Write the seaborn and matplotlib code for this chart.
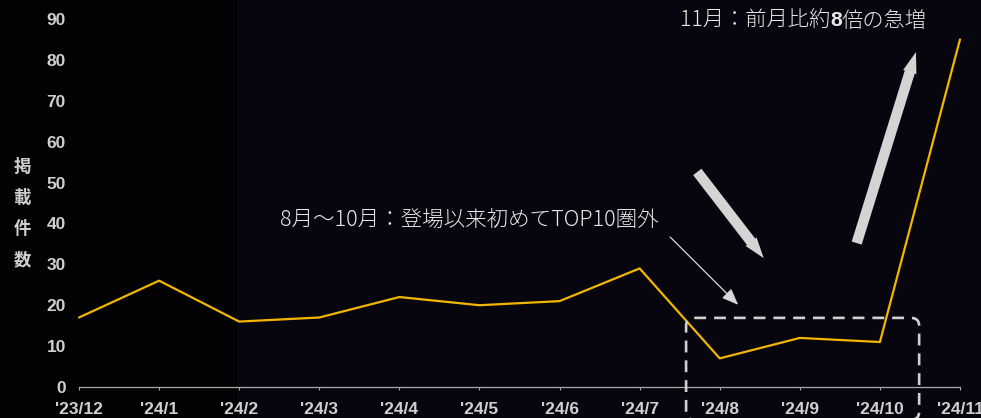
import matplotlib
matplotlib.use("Agg")
import matplotlib.pyplot as plt
from matplotlib.patches import FancyBboxPatch, Rectangle
import seaborn as sns
import pandas as pd

# Monthly listing counts
months = ["'23/12", "'24/1", "'24/2", "'24/3", "'24/4", "'24/5",
          "'24/6", "'24/7", "'24/8", "'24/9", "'24/10", "'24/11"]
counts = [17, 26, 16, 17, 22, 20, 21, 29, 7, 12, 11, 85]
y_ticks = [0, 10, 20, 30, 40, 50, 60, 70, 80, 90]
y_label = "掲載件数"
note_drop = "8月～10月：登場以来初めてTOP10圏外"
note_jump = "11月：前月比約8倍の急増"

sns.set_theme(style="dark")
plt.rcParams["font.family"] = ["Noto Sans CJK JP", "DejaVu Sans"]

BG_LEFT = "#020204"
BG = "#07060e"
GREY = "#cfcfcf"
NOTE = "#e8e8e8"
LINE = "#f2b600"
TICK_FONT = ["Liberation Sans Narrow", "Liberation Sans", "DejaVu Sans"]

df = pd.DataFrame({"month": months, "count": counts, "pos": range(len(months))})

fig = plt.figure(figsize=(9.81, 4.18), dpi=100, facecolor=BG_LEFT)
fig.patches.append(Rectangle((237 / 981, 0), 1 - 237 / 981, 1,
                             transform=fig.transFigure, facecolor=BG,
                             edgecolor="none", zorder=-5))
ax = fig.add_axes([79 / 981, 1 - 387 / 418, (960 - 79) / 981, (387 - 19) / 418])
ax.set_facecolor("none")

sns.lineplot(data=df, x="pos", y="count", ax=ax, color=LINE, linewidth=1.6,
             clip_on=False, zorder=3)

ax.set_xlim(0, len(months) - 1)
ax.set_ylim(0, 90)
ax.set_xticks(df["pos"])
ax.set_xticklabels(months)
ax.set_yticks(y_ticks)
ax.set_xlabel("")
ax.set_ylabel("")
ax.grid(False)

for side in ["top", "right", "left"]:
    ax.spines[side].set_visible(False)
ax.spines["bottom"].set_visible(True)
ax.spines["bottom"].set_color("#a9a9a9")
ax.spines["bottom"].set_linewidth(0.9)

ax.tick_params(axis="x", bottom=True, length=2.5, width=0.8, color="#a9a9a9",
               pad=8, labelcolor=GREY)
ax.tick_params(axis="y", left=False, pad=3.5, labelcolor=GREY)
for lab in ax.get_xticklabels() + ax.get_yticklabels():
    lab.set_fontfamily(TICK_FONT)
    lab.set_fontweight("bold")
    lab.set_fontsize(12.5)

# vertical axis title, one character per row
for i, ch in enumerate(y_label):
    fig.text(22 / 981, 1 - (167 + i * 31) / 418, ch, color=GREY, fontsize=12.5,
             fontweight="bold", ha="center", va="center")

# dashed frame around Aug–Oct
frame = FancyBboxPatch((7.58, -8), 10.49 - 7.58, 16.9 + 8,
                       boxstyle="round,pad=0,rounding_size=0.1",
                       mutation_aspect=19.6, facecolor="none", edgecolor="#d0d0d0",
                       linewidth=1.9, linestyle=(0, (4.5, 3)), clip_on=False,
                       zorder=4)
ax.add_patch(frame)

# notes
ax.text(2.51, 40.8, note_drop, color=NOTE, fontsize=15.5, fontweight="light",
        ha="left", va="center")

# surge note, with the multiplier set in bold
head, num, tail = note_jump.partition("8")
t1 = ax.text(7.5, 89.6, head, color=NOTE, fontsize=15.3, fontweight="light",
             ha="left", va="center", clip_on=False)
t2 = ax.annotate(num, xy=(1, 0.5), xycoords=t1, color=NOTE, fontsize=15.3,
                 fontweight="bold", ha="left", va="center",
                 family=["Liberation Sans", "DejaVu Sans"])
ax.annotate(tail, xy=(1, 0.5), xycoords=t2, color=NOTE, fontsize=15.3,
            fontweight="light", ha="left", va="center")

# thin pointer
ax.annotate("", xy=(8.23, 20.1), xytext=(7.38, 36.7),
            arrowprops=dict(arrowstyle="-|>,head_length=10,head_width=4",
                            color="#d8d8d8", lw=0.9, mutation_scale=1,
                            shrinkA=0, shrinkB=0))

# block arrows: decline and surge
big = dict(arrowstyle="simple,head_length=15,head_width=10,tail_width=7.5",
           color="#d4d4d4", mutation_scale=1, shrinkA=0, shrinkB=0, lw=0)
ax.annotate("", xy=(8.55, 31.5), xytext=(7.72, 52.6), arrowprops=big)
ax.annotate("", xy=(10.45, 81.9), xytext=(9.71, 35.2), arrowprops=big)

fig.savefig("out.png", dpi=100, facecolor=fig.get_facecolor())
